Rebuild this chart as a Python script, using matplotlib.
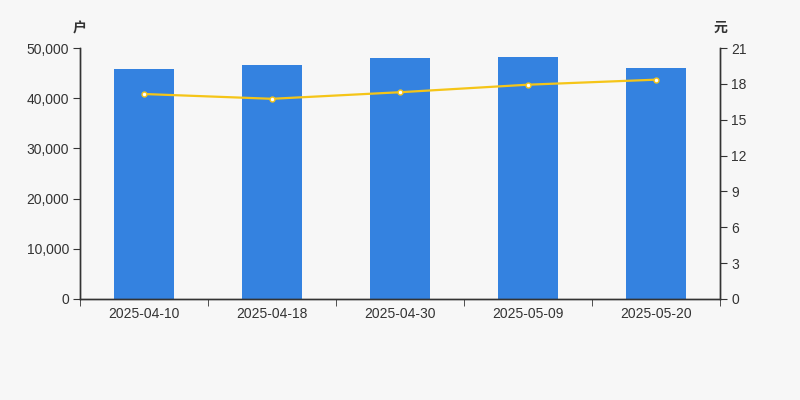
import matplotlib
matplotlib.use("Agg")
import matplotlib.pyplot as plt
from matplotlib.ticker import FuncFormatter

plt.rcParams['font.family'] = ['Liberation Sans', 'Noto Sans CJK SC', 'DejaVu Sans']

# Data
dates = ["2025-04-10", "2025-04-18", "2025-04-30", "2025-05-09", "2025-05-20"]
holders = [45800, 46600, 47950, 48150, 46000]
avg_price = [17.15, 16.75, 17.3, 17.93, 18.35]

BG = "#f7f7f7"
AXC = "#333333"

fig = plt.figure(figsize=(8, 4), dpi=100, facecolor=BG)
ax1 = fig.add_axes([0.1, 0.2525, 0.8, 0.6275])
ax1.set_facecolor(BG)
ax2 = ax1.twinx()

x = list(range(len(dates)))
ax1.bar(x, holders, width=0.47, color="#3482e0", zorder=2)
ax2.plot(x, avg_price, color="#f5c518", linewidth=1.6, zorder=3,
         marker="o", markersize=3.5, markerfacecolor="white", markeredgecolor="#f5c518",
         markeredgewidth=1.0)

ax1.set_xlim(-0.5, len(dates) - 0.5)
ax1.set_ylim(0, 50000)
ax2.set_ylim(0, 21)
ax1.set_yticks([0, 10000, 20000, 30000, 40000, 50000])
ax1.yaxis.set_major_formatter(FuncFormatter(lambda v, p: f"{int(v):,}"))
ax2.set_yticks([0, 3, 6, 9, 12, 15, 18, 21])

ax1.set_xticks(x)
ax1.set_xticklabels(dates)
ax1.set_xticks([i - 0.5 for i in range(len(dates) + 1)], minor=True)
ax1.tick_params(axis="x", which="major", length=0, pad=6, labelsize=10, labelcolor=AXC)
ax1.tick_params(axis="x", which="minor", length=5, color=AXC, direction="out")
ax1.tick_params(axis="y", length=5, color=AXC, labelsize=10, labelcolor=AXC, pad=3)
ax2.tick_params(axis="y", length=5, color=AXC, labelsize=10, labelcolor=AXC, pad=3)

for ax in (ax1, ax2):
    ax.spines["top"].set_visible(False)
    for s in ("left", "right", "bottom"):
        ax.spines[s].set_color(AXC)
        ax.spines[s].set_linewidth(1)

fig.text(0.1, 0.93, "户", ha="center", va="center", fontsize=10, color=AXC,
         family=['Noto Sans CJK SC'], fontweight="bold")
fig.text(0.9, 0.93, "元", ha="center", va="center", fontsize=10, color=AXC,
         family=['Noto Sans CJK SC'], fontweight="bold")

plt.savefig("out.png", dpi=100, facecolor=BG)
plt.close()
